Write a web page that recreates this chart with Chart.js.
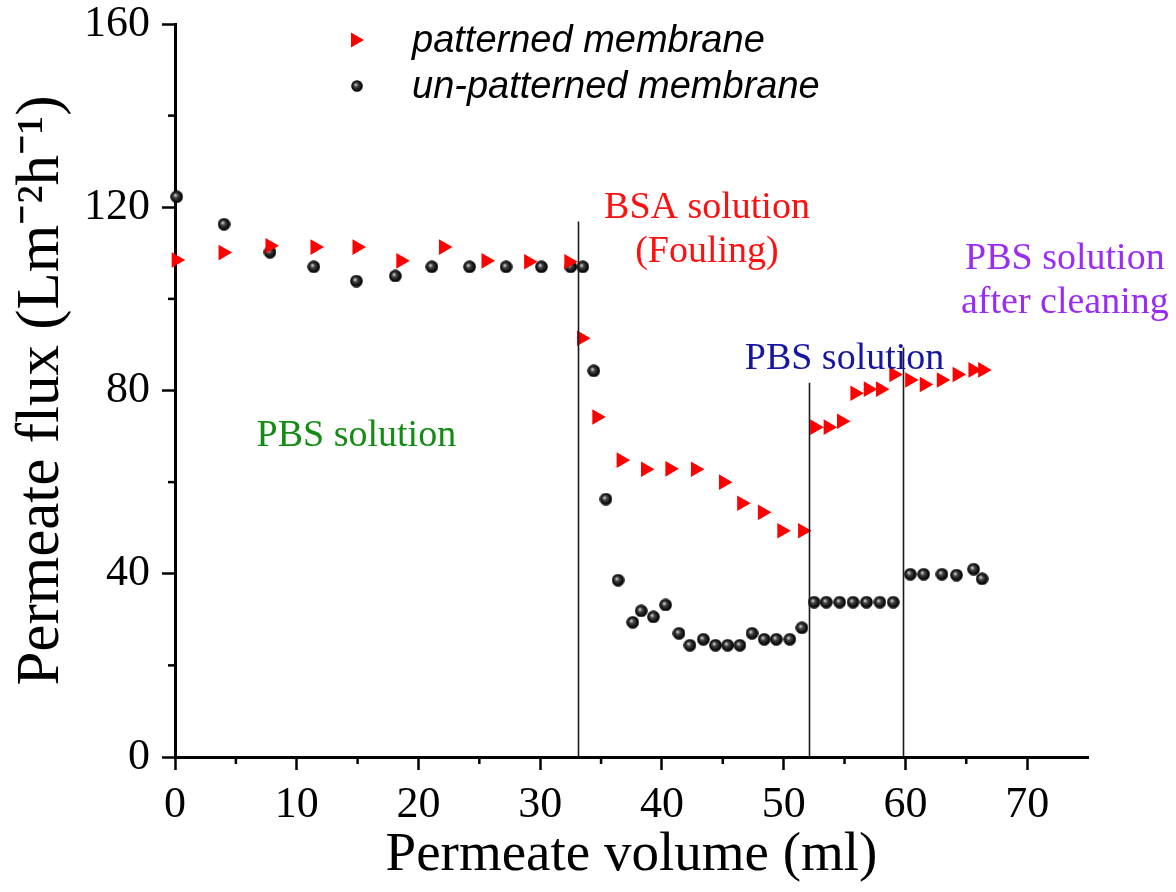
<!DOCTYPE html>
<html>
<head>
<meta charset="utf-8">
<script src="https://cdn.jsdelivr.net/npm/chart.js@4/dist/chart.umd.min.js"></script>
<style>
  html, body { margin: 0; padding: 0; background: #fff; }
  #wrap { width: 1176px; height: 892px; }
</style>
</head>
<body>
<div id="wrap"><canvas id="c" width="1176" height="892"></canvas></div>
<script>
// ---- data ----
const patternedX = [0.1, 3.95, 7.8, 11.5, 14.95, 18.55, 22.05, 25.55, 29.05, 32.35, 33.4, 34.65, 36.65, 38.65, 40.65, 42.75, 45.05, 46.55, 48.25, 49.85, 51.55, 52.55, 53.65, 54.75, 55.85, 56.95, 57.95, 59.05, 60.35, 61.55, 62.95, 64.25, 65.55, 66.35];
const patternedY = [108.5, 110.1, 111.6, 111.3, 111.3, 108.3, 111.3, 108.3, 108.1, 108.1, 91.4, 74.2, 64.8, 62.8, 62.9, 62.8, 60.0, 55.4, 53.4, 49.4, 49.4, 72.0, 72.0, 73.3, 79.4, 80.3, 80.3, 83.5, 82.3, 81.3, 82.3, 83.5, 84.5, 84.5];
const unpatternedX = [0.14, 4.03, 7.8, 11.4, 14.9, 18.1, 21.1, 24.2, 27.2, 30.1, 32.5, 33.5, 34.4, 35.4, 36.4, 37.6, 38.3, 39.3, 40.3, 41.4, 42.3, 43.4, 44.4, 45.4, 46.4, 47.4, 48.4, 49.4, 50.5, 51.5, 52.5, 53.5, 54.6, 55.7, 56.8, 57.9, 59.0, 60.4, 61.5, 63.0, 64.2, 65.6, 66.3];
const unpatternedY = [122.3, 116.3, 110.2, 107.0, 103.9, 105.0, 107.0, 107.0, 107.0, 107.0, 107.0, 107.0, 84.3, 56.3, 38.6, 29.4, 31.9, 30.6, 33.2, 27.0, 24.4, 25.7, 24.4, 24.4, 24.4, 27.0, 25.7, 25.7, 25.7, 28.2, 33.8, 33.8, 33.8, 33.8, 33.8, 33.8, 33.8, 39.9, 39.9, 39.9, 39.7, 41.0, 38.9];
const seriesNames = ['patterned membrane', 'un-patterned membrane'];
const xTicks = [0, 10, 20, 30, 40, 50, 60, 70];
const yTicks = [0, 40, 80, 120, 160];
const dividerX = [33.1, 52.1, 59.8];
const dividerTop = [116.9, 81.7, 89.4];
const xTitle = 'Permeate volume (ml)';
const yTitle = 'Permeate flux (Lm\u207B\u00B2h\u207B\u00B9)';

// ---- marker: shaded black sphere ----
const sphere = document.createElement('canvas');
sphere.width = 13; sphere.height = 13;
(function () {
  const g = sphere.getContext('2d');
  const grad = g.createRadialGradient(5, 5, 0.5, 6.5, 6.5, 6.5);
  grad.addColorStop(0, '#c8c8c8');
  grad.addColorStop(0.3, '#444');
  grad.addColorStop(0.7, '#111');
  grad.addColorStop(1, '#000');
  g.fillStyle = grad;
  g.beginPath(); g.arc(6.5, 6.5, 6.3, 0, Math.PI * 2); g.fill();
})();

const toPts = (xs, ys) => xs.map((x, i) => ({ x: x, y: ys[i] }));

const serif = "'Liberation Serif', 'Times New Roman', serif";

const annotations = [
  { lines: ['PBS solution'], x: 14.9, y: 67.8, color: '#128c12' },
  { lines: ['BSA solution', '(Fouling)'], x: 43.7, y: 117.6, color: '#ff1010' },
  { lines: ['PBS solution'], x: 55.0, y: 84.6, color: '#1616a0' },
  { lines: ['PBS solution', 'after cleaning'], x: 73.1, y: 106.6, color: '#9a2cf5' }
];

const overlay = {
  id: 'overlay',
  afterDatasetsDraw(chart) {
    const { ctx, scales: { x, y } } = chart;
    ctx.save();
    // divider lines
    ctx.strokeStyle = '#1a1a1a';
    ctx.lineWidth = 1.6;
    dividerX.forEach((v, i) => {
      const px = Math.round(x.getPixelForValue(v)) + 0.5;
      ctx.beginPath();
      ctx.moveTo(px, y.getPixelForValue(dividerTop[i]));
      ctx.lineTo(px, y.getPixelForValue(0));
      ctx.stroke();
    });
    // minor ticks
    ctx.strokeStyle = '#000';
    ctx.lineWidth = 2.5;
    const bottom = y.getPixelForValue(0);
    for (let v = 5; v < 75; v += 10) {
      const px = x.getPixelForValue(v);
      ctx.beginPath(); ctx.moveTo(px, bottom); ctx.lineTo(px, bottom + 7); ctx.stroke();
    }
    const left = x.getPixelForValue(0);
    for (let v = 20; v < 160; v += 40) {
      const py = y.getPixelForValue(v);
      ctx.beginPath(); ctx.moveTo(left, py); ctx.lineTo(left - 7, py); ctx.stroke();
    }
    // annotations
    ctx.textAlign = 'center';
    ctx.textBaseline = 'alphabetic';
    ctx.font = '38px ' + serif;
    annotations.forEach(a => {
      ctx.fillStyle = a.color;
      const px = x.getPixelForValue(a.x);
      const py = y.getPixelForValue(a.y);
      a.lines.forEach((t, j) => ctx.fillText(t, px, py + j * 44));
    });
    // legend
    ctx.textAlign = 'left';
    ctx.textBaseline = 'middle';
    ctx.font = 'italic 38px "Liberation Sans", Arial, sans-serif';
    const lx = 357, ly = [40, 86];
    ctx.fillStyle = chart.data.datasets[0].backgroundColor;
    ctx.beginPath();
    ctx.moveTo(lx + 7, ly[0]);
    ctx.lineTo(lx - 6, ly[0] - 7.5);
    ctx.lineTo(lx - 6, ly[0] + 7.5);
    ctx.closePath(); ctx.fill();
    ctx.drawImage(sphere, lx - 6, ly[1] - 6, 12, 12);
    ctx.fillStyle = '#000';
    ctx.fillText(seriesNames[0], 412, ly[0] + 1);
    ctx.fillText(seriesNames[1], 412, ly[1] + 1);
    ctx.restore();
  }
};

new Chart(document.getElementById('c'), {
  type: 'scatter',
  data: {
    datasets: [
      {
        label: seriesNames[0],
        data: toPts(patternedX, patternedY),
        pointStyle: 'triangle',
        rotation: 90,
        radius: 9,
        backgroundColor: '#ff0000',
        borderColor: '#ff0000',
        borderWidth: 0,
        clip: false
      },
      {
        label: seriesNames[1],
        data: toPts(unpatternedX, unpatternedY),
        pointStyle: sphere,
        radius: 6.5,
        backgroundColor: '#000',
        borderColor: '#000',
        clip: false
      }
    ]
  },
  options: {
    responsive: false,
    animation: false,
    devicePixelRatio: 1,
    layout: { padding: { left: 0, right: 88, top: 24, bottom: 0 } },
    plugins: { legend: { display: false }, tooltip: { enabled: false } },
    scales: {
      x: {
        type: 'linear',
        min: 0, max: 75,
        afterBuildTicks: s => { s.ticks = xTicks.map(v => ({ value: v })); },
        afterFit: s => { s.height = 135; s.paddingLeft = 0; s.paddingRight = 0; },
        border: { display: true, color: '#000', width: 3 },
        grid: { display: true, drawOnChartArea: false, drawTicks: true, tickLength: 13, tickColor: '#000', tickWidth: 2.5 },
        ticks: { color: '#000', font: { family: serif, size: 44 }, padding: 9, maxRotation: 0 },
        title: { display: true, text: xTitle, color: '#000', font: { family: serif, size: 55 }, padding: { top: 0, bottom: 3 } }
      },
      y: {
        type: 'linear',
        min: 0, max: 160,
        afterBuildTicks: s => { s.ticks = yTicks.map(v => ({ value: v })); },
        afterFit: s => { s.width = 175; s.paddingTop = 0; s.paddingBottom = 0; },
        border: { display: true, color: '#000', width: 3 },
        grid: { display: true, drawOnChartArea: false, drawTicks: true, tickLength: 13, tickColor: '#000', tickWidth: 2.5 },
        ticks: { color: '#000', font: { family: serif, size: 44 }, padding: 12 },
        title: { display: true, text: yTitle, color: '#000', font: { family: serif, size: 61 }, padding: { top: 5, bottom: 0 } }
      }
    }
  },
  plugins: [overlay]
});
</script>
</body>
</html>
